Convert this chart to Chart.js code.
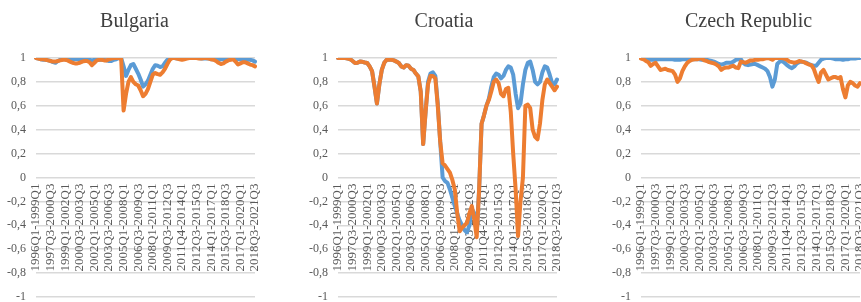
<!DOCTYPE html>
<html>
<head>
<meta charset="utf-8">
<script src="https://cdn.jsdelivr.net/npm/chart.js@4"></script>
<style>
html,body{margin:0;padding:0;overflow:hidden;background:#fff;width:861px;height:302px;}
.p{position:absolute;top:0;}
</style>
</head>
<body>
<div class="p" style="left:0px"><canvas id="c0" width="269" height="302"></canvas></div>
<div class="p" style="left:302px"><canvas id="c1" width="284" height="302"></canvas></div>
<div class="p" style="left:605px"><canvas id="c2" width="287" height="302"></canvas></div>
<script>
// Tick labels shown on the category axis (every 6th window)
const tickLabels = ["1996Q1-1999Q1","1997Q3-2000Q3","1999Q1-2002Q1","2000Q3-2003Q3","2002Q1-2005Q1","2003Q3-2006Q3","2005Q1-2008Q1","2006Q3-2009Q3","2008Q1-2011Q1","2009Q3-2012Q3","2011Q4-2014Q1","2012Q3-2015Q3","2014Q1-2017Q1","2015Q3-2018Q3","2017Q1-2020Q1","2018Q3-2021Q3"];

// Rolling 3-year windows 1996Q1-1999Q1 ... 2018Q3-2021Q3 (91 categories)
const categories = [];
for (let k = 0; k < 91; k++) {
  if (k % 6 === 0) { categories.push(tickLabels[k / 6]); continue; }
  const sy = 1996 + Math.floor(k / 4), sq = (k % 4) + 1;
  categories.push(sy + "Q" + sq + "-" + (sy + 3) + "Q" + sq);
}

const bulgariaBlue = [
 1.00,0.995,0.99,0.985,0.985,0.98,0.975,0.965,0.96,0.975,
 0.985,0.99,0.99,0.99,0.99,0.99,0.99,0.99,0.99,0.99,
 0.99,0.99,0.985,0.98,0.985,0.99,0.985,0.985,0.985,0.98,
 0.975,0.975,0.985,0.99,1.00,1.00,0.93,0.85,0.90,0.94,
 0.95,0.91,0.87,0.82,0.76,0.78,0.81,0.86,0.91,0.94,
 0.935,0.925,0.93,0.96,0.985,1.0,1.0,1.0,0.995,0.995,
 0.995,1.0,1.0,1.0,1.0,1.0,1.0,1.0,0.995,0.995,
 0.995,0.995,0.99,0.99,0.985,0.985,0.99,0.99,0.995,0.995,
 0.995,0.995,0.99,0.99,0.99,0.99,0.99,0.985,0.985,0.98,
 0.97];
const bulgariaOrange = [
 1.00,0.995,0.99,0.99,0.985,0.98,0.975,0.97,0.97,0.975,
 0.98,0.985,0.985,0.98,0.97,0.96,0.955,0.955,0.96,0.97,
 0.975,0.975,0.965,0.94,0.96,0.98,0.985,0.985,0.98,0.98,
 0.99,0.995,1.0,1.0,1.0,0.99,0.56,0.70,0.80,0.84,
 0.80,0.78,0.77,0.73,0.68,0.70,0.74,0.80,0.86,0.875,
 0.865,0.86,0.88,0.91,0.95,0.985,1.0,1.0,0.995,0.99,
 0.985,0.99,0.995,1.0,1.0,1.0,1.0,0.995,0.995,1.0,
 1.0,0.995,0.99,0.985,0.975,0.96,0.95,0.955,0.97,0.98,
 0.985,0.99,0.97,0.945,0.955,0.965,0.965,0.955,0.945,0.94,
 0.93];

const croatiaBlue = [
 1.0,1.0,1.0,1.0,0.995,0.99,0.975,0.958,0.96,0.97,
 0.968,0.962,0.958,0.93,0.89,0.76,0.62,0.78,0.90,0.96,
 0.985,0.985,0.985,0.98,0.97,0.958,0.93,0.92,0.94,0.935,
 0.91,0.90,0.87,0.846,0.72,0.28,0.55,0.80,0.87,0.88,
 0.85,0.62,0.30,0.0,-0.03,-0.045,-0.10,-0.17,-0.24,-0.30,
 -0.36,-0.40,-0.44,-0.46,-0.40,-0.26,-0.30,-0.45,-0.10,0.45,
 0.52,0.60,0.66,0.76,0.84,0.87,0.86,0.83,0.85,0.90,
 0.93,0.92,0.86,0.70,0.58,0.62,0.78,0.90,0.96,0.97,
 0.90,0.80,0.78,0.80,0.88,0.93,0.92,0.86,0.79,0.78,
 0.82];
const croatiaOrange = [
 1.0,1.0,1.0,1.0,0.995,0.99,0.975,0.958,0.96,0.97,
 0.968,0.962,0.958,0.93,0.89,0.76,0.62,0.78,0.90,0.96,
 0.985,0.985,0.985,0.98,0.97,0.958,0.93,0.92,0.94,0.935,
 0.91,0.90,0.87,0.846,0.72,0.28,0.55,0.78,0.85,0.85,
 0.83,0.60,0.30,0.12,0.10,0.07,0.04,-0.02,-0.10,-0.30,
 -0.45,-0.42,-0.40,-0.38,-0.30,-0.24,-0.35,-0.50,-0.10,0.45,
 0.52,0.60,0.65,0.72,0.80,0.82,0.79,0.70,0.68,0.74,
 0.75,0.55,0.20,-0.10,-0.49,-0.20,0.0,0.60,0.61,0.58,
 0.40,0.34,0.32,0.45,0.65,0.78,0.82,0.79,0.76,0.73,
 0.76];

const czechBlue = [
 1.0,0.995,0.99,0.99,0.985,0.985,0.985,0.99,0.99,0.99,
 0.99,0.99,0.99,0.99,0.985,0.985,0.985,0.99,0.99,0.99,
 0.99,0.99,0.99,0.99,0.99,0.985,0.985,0.985,0.98,0.975,
 0.97,0.96,0.95,0.945,0.95,0.96,0.96,0.96,0.97,0.985,
 0.99,0.99,0.96,0.945,0.94,0.945,0.95,0.95,0.94,0.93,
 0.92,0.91,0.89,0.84,0.76,0.82,0.95,0.97,0.975,0.96,
 0.94,0.925,0.915,0.93,0.955,0.965,0.97,0.965,0.96,0.95,
 0.94,0.935,0.935,0.96,0.985,0.995,1.0,1.0,1.0,0.995,
 0.99,0.99,0.99,0.985,0.99,0.99,0.995,0.995,0.995,1.0,
 1.0];
const czechOrange = [
 0.995,0.99,0.975,0.965,0.935,0.95,0.96,0.93,0.90,0.905,
 0.91,0.90,0.895,0.89,0.86,0.80,0.83,0.89,0.93,0.96,
 0.975,0.985,0.99,0.99,0.995,0.995,0.98,0.975,0.965,0.96,
 0.955,0.945,0.93,0.90,0.915,0.92,0.92,0.93,0.935,0.92,
 0.915,0.97,0.965,0.96,0.97,0.98,0.98,0.985,0.985,0.99,
 0.99,0.995,1.0,0.995,0.985,1.0,1.0,1.0,1.0,0.995,
 0.985,0.97,0.965,0.96,0.965,0.975,0.97,0.965,0.955,0.945,
 0.94,0.91,0.85,0.80,0.88,0.90,0.86,0.82,0.83,0.84,
 0.84,0.83,0.84,0.74,0.67,0.77,0.80,0.79,0.77,0.76,
 0.79];

const titles = ["Bulgaria", "Croatia", "Czech Republic"];
const blueSeries = [bulgariaBlue, croatiaBlue, czechBlue];
const orangeSeries = [bulgariaOrange, croatiaOrange, czechOrange];
const rightPads = [14, 29, 32];

const SERIF = "'Liberation Serif','Times New Roman',serif";
const GREY = '#595959';

function yLabel(v) {
  if (Math.abs(v - Math.round(v)) < 1e-9) return String(Math.round(v));
  return v.toFixed(1).replace('.', ',');
}

for (let c = 0; c < 3; c++) {
  const padR = rightPads[c];
  new Chart(document.getElementById('c' + c), {
    type: 'line',
    data: {
      labels: categories,
      datasets: [
        { data: orangeSeries[c], borderColor: '#ED7D31', backgroundColor: '#ED7D31', order: 0 },
        { data: blueSeries[c], borderColor: '#5B9BD5', backgroundColor: '#5B9BD5', order: 1 }
      ]
    },
    options: {
      responsive: false,
      animation: false,
      layout: { padding: { left: 0, right: 0, top: 0, bottom: 5 } },
      elements: {
        point: { radius: 0, hoverRadius: 0 },
        line: { borderWidth: 4, tension: 0, borderJoinStyle: 'round', borderCapStyle: 'round', fill: false }
      },
      plugins: {
        legend: { display: false },
        tooltip: { enabled: false },
        title: {
          display: true,
          text: titles[c],
          color: '#404040',
          font: { family: SERIF, size: 20, weight: 'normal' },
          padding: { top: 10, bottom: 24 }
        }
      },
      scales: {
        y: {
          min: -1, max: 1,
          ticks: {
            stepSize: 0.2,
            color: GREY,
            padding: 10,
            font: { family: SERIF, size: 12 },
            callback: (v) => yLabel(v)
          },
          grid: { color: '#d9d9d9', lineWidth: 1.5, drawTicks: false },
          border: { display: false },
          afterFit: (s) => { s.width = 36; s.paddingTop = 0; s.paddingBottom = 0; }
        },
        x: {
          position: { y: 0 },
          offset: false,
          grid: { display: false, drawTicks: false },
          border: { display: false },
          ticks: {
            autoSkip: false,
            minRotation: 90,
            maxRotation: 90,
            padding: 6,
            color: GREY,
            font: { family: SERIF, size: 13 },
            callback: function (val, idx) { return idx % 6 === 0 ? this.getLabelForValue(val) : null; }
          },
          afterFit: (s) => { s.paddingLeft = 0; s.paddingRight = padR; }
        }
      }
    }
  });
}
</script>
</body>
</html>
